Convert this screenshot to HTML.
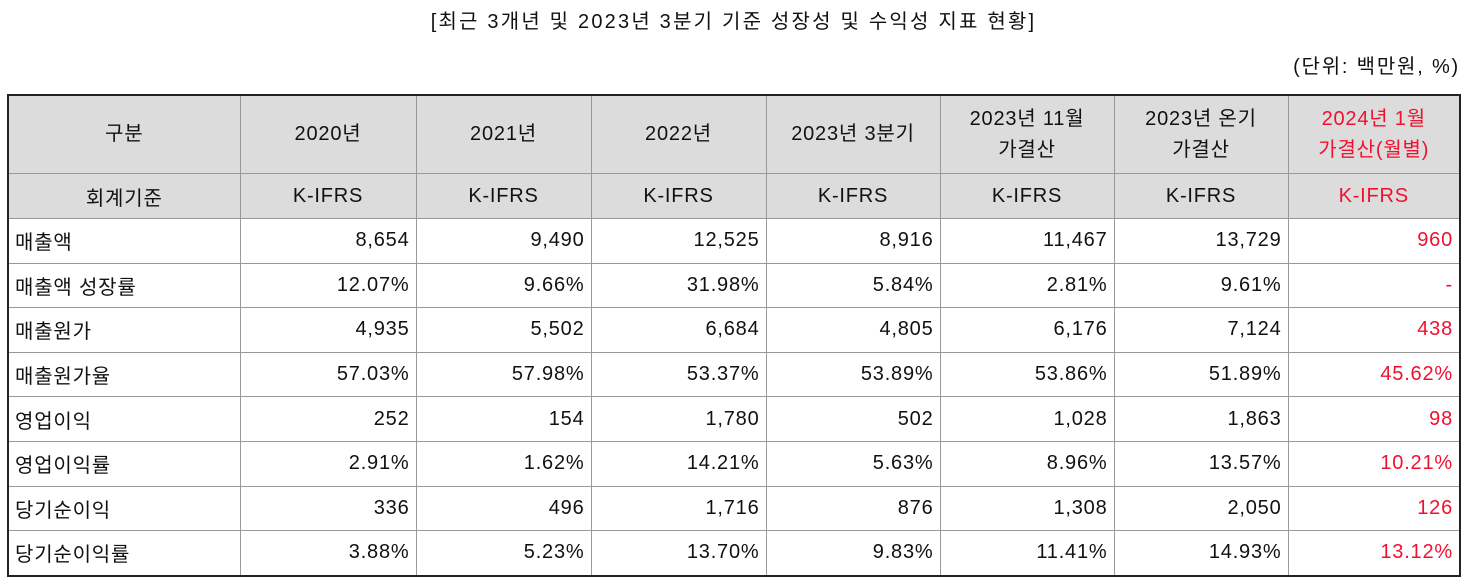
<!DOCTYPE html>
<html><head><meta charset="utf-8"><style>
body{margin:0;width:1467px;height:584px;background:#fff;font-family:"Liberation Sans","Noto Sans CJK KR",sans-serif;color:#111;position:relative;overflow:hidden}
.title{position:absolute;top:5px;left:0;width:1467px;text-align:center;font-size:20px;letter-spacing:2.2px}
.unit{position:absolute;top:50px;right:7px;font-size:20px;letter-spacing:1.8px}
table{position:absolute;left:7px;top:94px;border-collapse:collapse;border:2px solid #222;table-layout:fixed;font-size:20px;letter-spacing:0.8px}
td{border:1px solid #999;padding:0 6px;height:43.6px;white-space:nowrap}
tr.h1 td{height:77px;background:#dcdcdc;text-align:center;line-height:31px}
tr.h2 td{height:44px;background:#dcdcdc;text-align:center}
td.n{text-align:right}
td.l{text-align:left}
.r{color:#f01030}
</style></head><body>
<div class="title">[최근 3개년 및 2023년 3분기 기준 성장성 및 수익성 지표 현황]</div>
<div class="unit">(단위: 백만원, %)</div>
<table>
<colgroup><col style="width:232px"><col style="width:176px"><col style="width:175px"><col style="width:175px"><col style="width:174px"><col style="width:174px"><col style="width:174px"><col style="width:172px"></colgroup>
<tr class="h1"><td>구분</td><td>2020년</td><td>2021년</td><td>2022년</td><td>2023년 3분기</td><td>2023년 11월<br>가결산</td><td>2023년 온기<br>가결산</td><td class="r">2024년 1월<br>가결산(월별)</td></tr>
<tr class="h2"><td>회계기준</td><td>K-IFRS</td><td>K-IFRS</td><td>K-IFRS</td><td>K-IFRS</td><td>K-IFRS</td><td>K-IFRS</td><td class="r">K-IFRS</td></tr>
<tr><td class="l">매출액</td><td class="n">8,654</td><td class="n">9,490</td><td class="n">12,525</td><td class="n">8,916</td><td class="n">11,467</td><td class="n">13,729</td><td class="n r">960</td></tr>
<tr><td class="l">매출액 성장률</td><td class="n">12.07%</td><td class="n">9.66%</td><td class="n">31.98%</td><td class="n">5.84%</td><td class="n">2.81%</td><td class="n">9.61%</td><td class="n r">-</td></tr>
<tr><td class="l">매출원가</td><td class="n">4,935</td><td class="n">5,502</td><td class="n">6,684</td><td class="n">4,805</td><td class="n">6,176</td><td class="n">7,124</td><td class="n r">438</td></tr>
<tr><td class="l">매출원가율</td><td class="n">57.03%</td><td class="n">57.98%</td><td class="n">53.37%</td><td class="n">53.89%</td><td class="n">53.86%</td><td class="n">51.89%</td><td class="n r">45.62%</td></tr>
<tr><td class="l">영업이익</td><td class="n">252</td><td class="n">154</td><td class="n">1,780</td><td class="n">502</td><td class="n">1,028</td><td class="n">1,863</td><td class="n r">98</td></tr>
<tr><td class="l">영업이익률</td><td class="n">2.91%</td><td class="n">1.62%</td><td class="n">14.21%</td><td class="n">5.63%</td><td class="n">8.96%</td><td class="n">13.57%</td><td class="n r">10.21%</td></tr>
<tr><td class="l">당기순이익</td><td class="n">336</td><td class="n">496</td><td class="n">1,716</td><td class="n">876</td><td class="n">1,308</td><td class="n">2,050</td><td class="n r">126</td></tr>
<tr><td class="l">당기순이익률</td><td class="n">3.88%</td><td class="n">5.23%</td><td class="n">13.70%</td><td class="n">9.83%</td><td class="n">11.41%</td><td class="n">14.93%</td><td class="n r">13.12%</td></tr>
</table>
</body></html>
